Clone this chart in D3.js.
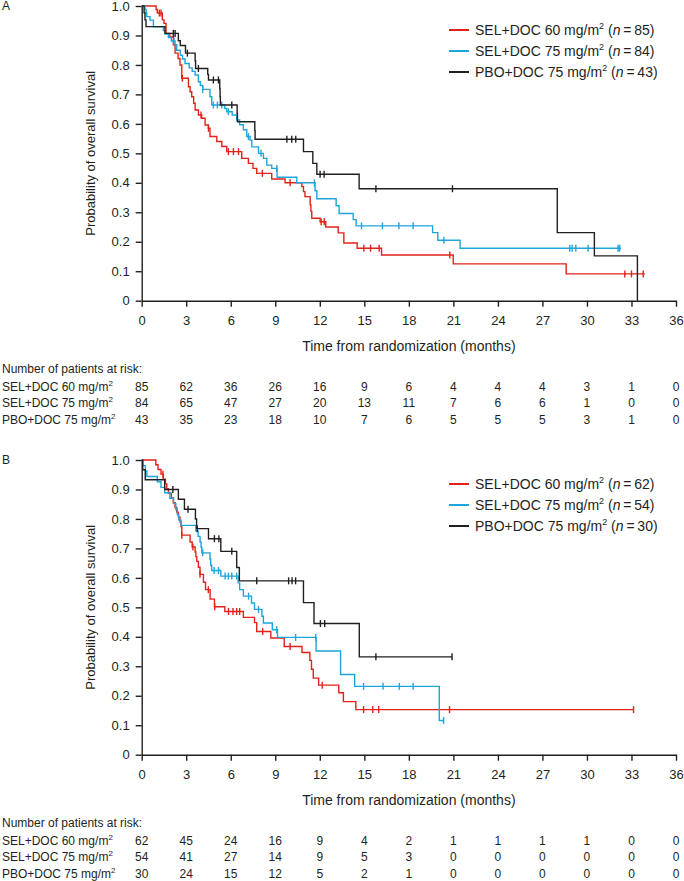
<!DOCTYPE html>
<html><head><meta charset="utf-8">
<script src="https://cdn.jsdelivr.net/npm/d3@7"></script>
<style>
body{margin:0;background:#fff;}
svg{display:block;font-family:"Liberation Sans",Arial,Helvetica,sans-serif;}
</style></head>
<body><svg id="c" width="684" height="881"></svg>
<script>
// ---------- DATA ----------
const seriesNames = ["SEL+DOC 60 mg/m", "SEL+DOC 75 mg/m", "PBO+DOC 75 mg/m"];
const nA = [85, 84, 43];
const nB = [62, 54, 30];
const xTicks = [0,3,6,9,12,15,18,21,24,27,30,33,36];
const yTicks = [0,0.1,0.2,0.3,0.4,0.5,0.6,0.7,0.8,0.9,1.0];
const riskTimes = [0,3,6,9,12,15,18,21,24,27,30,33,36];

// Panel A  Kaplan-Meier steps [time (months), survival]
const a60Steps = [[0,1],[0.97,0.988],[1.05,0.976],[1.39,0.953],[1.5,0.941],[1.64,0.907],[1.9,0.895],[2.13,0.868],[2.25,0.84],[2.45,0.822],[2.58,0.8],[2.7,0.755],[3.15,0.726],[3.26,0.709],[3.37,0.692],[3.5,0.67],[3.6,0.647],[3.82,0.63],[4.04,0.619],[4.27,0.596],[4.49,0.585],[4.6,0.557],[5.06,0.54],[5.4,0.523],[5.73,0.506],[6.74,0.483],[7.19,0.466],[7.5,0.449],[7.75,0.432],[8.76,0.413],[9.66,0.40],[10.79,0.387],[10.9,0.37],[11.0,0.353],[11.35,0.325],[11.4,0.303],[11.46,0.28],[12.02,0.268],[12.4,0.25],[13.24,0.23],[13.62,0.196],[14.52,0.178],[16.16,0.155],[20.99,0.125],[28.6,0.091]];
const a60Cens = [1.19,1.3,2.74,4.0,4.5,5.84,6.18,6.52,8.13,10.0,12.09,12.3,14.97,15.42,16.0,20.76,32.55,33.0,33.79];
const a60End = 33.9;

const a75Steps = [[0,1],[0.22,0.988],[0.3,0.976],[0.34,0.964],[0.56,0.952],[0.79,0.929],[1.46,0.917],[1.57,0.905],[1.8,0.893],[2.0,0.881],[2.25,0.869],[2.36,0.85],[2.6,0.833],[2.75,0.82],[2.92,0.805],[3.2,0.79],[3.4,0.778],[3.6,0.766],[3.82,0.743],[3.95,0.73],[4.11,0.717],[4.6,0.692],[4.72,0.664],[5.6,0.652],[5.73,0.641],[6.1,0.63],[6.4,0.613],[6.6,0.597],[6.85,0.58],[7.08,0.557],[7.3,0.545],[7.42,0.522],[7.87,0.5],[8.2,0.483],[8.43,0.46],[8.76,0.449],[9.12,0.419],[10.45,0.40],[11.68,0.373],[11.8,0.346],[13.1,0.322],[13.3,0.296],[14.25,0.275],[14.45,0.254],[19.6,0.231],[19.95,0.205],[21.45,0.178]];
const a75Cens = [2.18,4.11,4.83,5.1,5.39,5.84,7.19,8.04,9.1,11.64,14.81,16.22,17.33,18.29,20.36,28.84,29.0,29.25,30.08,32.1,32.2];
const a75End = 32.3;

const aPboSteps = [[0,1],[0.16,0.977],[0.22,0.953],[0.29,0.93],[1.57,0.907],[2.47,0.882],[2.6,0.866],[2.95,0.84],[3.6,0.814],[3.63,0.788],[4.45,0.768],[4.5,0.749],[5.26,0.72],[5.28,0.692],[5.3,0.664],[6.43,0.636],[6.45,0.607],[7.62,0.578],[7.64,0.548],[10.9,0.506],[11.53,0.466],[11.8,0.429],[14.65,0.38],[28.0,0.231],[30.5,0.152],[33.4,0]];
const aPboCens = [2.13,2.25,3.08,3.82,4.83,5.17,6.07,9.78,10.11,10.38,12.02,12.29,15.78,20.94];
const aPboEnd = 33.4;

// Panel B
const b60Steps = [[0,1],[0.95,0.984],[1.1,0.968],[1.3,0.952],[1.46,0.935],[1.6,0.919],[1.69,0.903],[1.8,0.887],[2.0,0.871],[2.13,0.855],[2.25,0.839],[2.36,0.823],[2.47,0.806],[2.58,0.79],[2.65,0.774],[2.7,0.745],[3.26,0.722],[3.4,0.705],[3.6,0.688],[3.65,0.672],[3.71,0.656],[3.82,0.636],[3.93,0.612],[4.16,0.585],[4.3,0.56],[4.61,0.528],[4.9,0.502],[5.6,0.486],[6.85,0.466],[7.6,0.448],[7.75,0.418],[8.7,0.396],[9.6,0.367],[10.8,0.347],[11.33,0.32],[11.44,0.29],[11.56,0.26],[11.92,0.236],[13.28,0.21],[13.59,0.18],[14.43,0.153]];
const b60Cens = [1.43,2.7,3.45,3.93,4.49,4.92,5.85,6.15,6.4,6.6,8.15,10.0,12.16,14.95,15.57,15.97,20.74,33.14];
const b60End = 33.14;

const b75Steps = [[0,1],[0.07,0.981],[0.25,0.963],[0.35,0.944],[1.05,0.926],[1.3,0.907],[1.55,0.889],[1.9,0.87],[2.15,0.852],[2.3,0.833],[2.4,0.815],[2.5,0.796],[2.65,0.778],[3.65,0.759],[3.8,0.741],[3.93,0.722],[4.0,0.704],[4.05,0.685],[4.6,0.664],[4.65,0.643],[4.72,0.625],[5.33,0.606],[6.5,0.583],[6.6,0.56],[6.85,0.538],[7.4,0.515],[7.6,0.493],[8.1,0.47],[8.2,0.447],[8.8,0.424],[9.15,0.398],[11.75,0.352],[13.4,0.272],[14.35,0.232],[20.05,0.116]];
const b75Cens = [4.11,4.88,5.17,5.62,5.84,6.07,6.4,7.2,7.87,9.1,10.37,11.73,14.95,16.26,17.36,18.29,20.34];
const b75End = 20.34;

const bPboSteps = [[0,1],[0.07,0.967],[0.24,0.933],[1.55,0.9],[2.47,0.867],[2.88,0.833],[3.62,0.8],[3.7,0.767],[4.5,0.733],[5.33,0.69],[6.4,0.635],[6.58,0.59],[10.9,0.516],[11.61,0.445],[14.66,0.332]];
const bPboCens = [2.1,3.12,3.74,4.9,5.2,6.07,7.75,9.9,10.13,10.37,12.04,12.33,15.78,20.91];
const bPboEnd = 20.91;

// Numbers at risk
const riskA60 = [85,62,36,26,16,9,6,4,4,4,3,1,0];
const riskA75 = [84,65,47,27,20,13,11,7,6,6,1,0,0];
const riskAPbo = [43,35,23,18,10,7,6,5,5,5,3,1,0];
const riskB60 = [62,45,24,16,9,4,2,1,1,1,1,0,0];
const riskB75 = [54,41,27,14,9,5,3,0,0,0,0,0,0];
const riskBPbo = [30,24,15,12,5,2,1,0,0,0,0,0,0];

// ---------- STYLE ----------
const colors = ["#e2231a", "#1ea5dd", "#231f20"];
const axisColor = "#231f20";

const svg = d3.select("#c");
const x = d3.scaleLinear().domain([0,36]).range([141.7,676]);

function survAt(steps, t){
  let s = 1;
  for (const p of steps){ if (p[0] <= t + 1e-9) s = p[1]; else break; }
  return s;
}

function drawPanel(top, label, curves, ns, risks){
  const y = d3.scaleLinear().domain([0,1]).range([top+294.7, top]);
  const g = svg.append("g");
  const y0 = y(0);

  // panel label
  g.append("text").attr("x",2).attr("y",top+4).attr("font-size",12).attr("fill","#231f20").text(label);

  // axes
  const ax = g.append("g").attr("transform",`translate(0,${y0})`)
    .call(d3.axisBottom(x).tickValues(xTicks).tickSize(6).tickSizeOuter(0).tickPadding(9).tickFormat(d3.format("d")));
  const ay = g.append("g").attr("transform",`translate(${x(0)},0)`)
    .call(d3.axisLeft(y).tickValues(yTicks).tickSize(6).tickSizeOuter(0).tickPadding(6).tickFormat(d => d===0 ? "0" : d.toFixed(1)));
  [ax, ay].forEach(a => {
    a.selectAll(".domain").attr("stroke",axisColor).attr("stroke-width",1.4);
    a.selectAll(".tick line").attr("stroke",axisColor).attr("stroke-width",1.4);
    a.selectAll(".tick text").attr("fill","#231f20").attr("font-size",13).attr("font-family",null);
  });
  ax.attr("font-family",null); ay.attr("font-family",null);

  // axis titles
  g.append("text").attr("x",(x(0)+x(36))/2).attr("y",y0+50).attr("text-anchor","middle")
    .attr("font-size",14).attr("fill","#231f20").text("Time from randomization (months)");
  g.append("text").attr("transform",`translate(95,${(y(0)+y(1))/2}) rotate(-90)`).attr("text-anchor","middle")
    .attr("font-size",13).attr("fill","#231f20").text("Probability of overall survival");

  // curves
  const line = d3.line().x(d=>x(d[0])).y(d=>y(d[1])).curve(d3.curveStepAfter);
  curves.forEach((c,i) => {
    const pts = c.steps.concat([[c.end, c.steps[c.steps.length-1][1]]]);
    g.append("path").attr("d",line(pts)).attr("fill","none").attr("stroke",colors[i]).attr("stroke-width",1.4);
    g.selectAll(null).data(c.cens).enter().append("line")
      .attr("x1",d=>x(d)).attr("x2",d=>x(d))
      .attr("y1",d=>y(survAt(c.steps,d))-3.5).attr("y2",d=>y(survAt(c.steps,d))+3.5)
      .attr("stroke",colors[i]).attr("stroke-width",1.4);
  });

  // legend
  ns.forEach((n,i) => {
    const ly = top + 24 + i*21;
    g.append("line").attr("x1",449).attr("x2",469).attr("y1",ly).attr("y2",ly)
      .attr("stroke",colors[i]).attr("stroke-width",2);
    const t = g.append("text").attr("x",475).attr("y",ly+5).attr("font-size",14).attr("fill","#231f20");
    t.append("tspan").text(seriesNames[i]);
    t.append("tspan").attr("font-size",9).attr("dy",-6).text("2");
    t.append("tspan").attr("dy",6).text(" (");
    t.append("tspan").attr("font-style","italic").text("n");
    t.append("tspan").text("\u2009=\u2009" + n + ")");
  });

  // risk table
  g.append("text").attr("x",2).attr("y",y0+72).attr("font-size",12).attr("fill","#231f20")
    .text("Number of patients at risk:");
  risks.forEach((r,i) => {
    const ry = y0 + 90 + i*16.5;
    const t = g.append("text").attr("x",2).attr("y",ry).attr("font-size",12).attr("fill","#231f20");
    t.append("tspan").text(seriesNames[i]);
    t.append("tspan").attr("font-size",8).attr("dy",-5).text("2");
    g.selectAll(null).data(r).enter().append("text")
      .attr("x",(d,j)=>x(riskTimes[j])).attr("y",ry).attr("text-anchor","middle")
      .attr("font-size",12).attr("fill","#231f20").text(d=>d);
  });
}

drawPanel(6, "A", [
  {steps:a60Steps, cens:a60Cens, end:a60End},
  {steps:a75Steps, cens:a75Cens, end:a75End},
  {steps:aPboSteps, cens:aPboCens, end:aPboEnd}
], nA, [riskA60, riskA75, riskAPbo]);

drawPanel(460, "B", [
  {steps:b60Steps, cens:b60Cens, end:b60End},
  {steps:b75Steps, cens:b75Cens, end:b75End},
  {steps:bPboSteps, cens:bPboCens, end:bPboEnd}
], nB, [riskB60, riskB75, riskBPbo]);
</script></body></html>
